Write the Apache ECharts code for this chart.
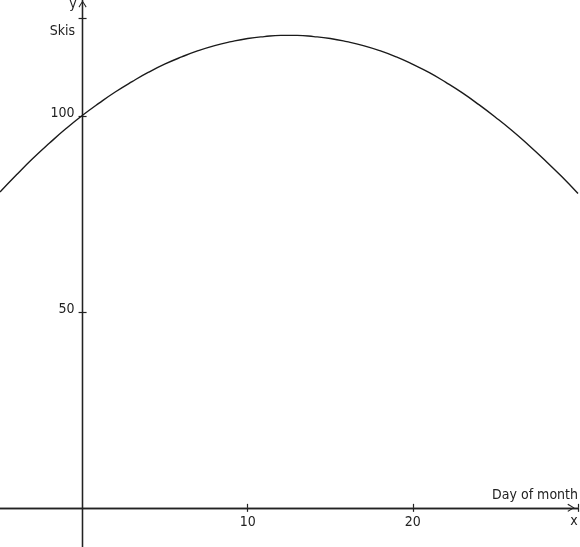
<!DOCTYPE html>
<html>
<head>
<meta charset="utf-8">
<script src="https://cdn.jsdelivr.net/npm/echarts@6/dist/echarts.min.js"></script>
<style>
html,body{margin:0;padding:0;background:#fff}
#chartmain{width:580px;height:547px}
</style>
</head>
<body>
<div id="chartmain"></div>
<script>
// ski sales over the month
var days = [-5, -4, -3, -2, -1, 0, 1, 2, 3, 4, 5, 6, 7, 8, 9, 10, 11, 12,
            13, 14, 15, 16, 17, 18, 19, 20, 21, 22, 23, 24, 25, 26, 27, 28, 29, 30];
var skis = [80.7, 85.1, 89.3, 93.2, 96.9, 100.3, 103.4, 106.3, 108.9, 111.3, 113.4, 115.2, 116.8, 118.1, 119.1, 119.9, 120.4, 120.7,
            120.7, 120.4, 119.9, 119.1, 118.1, 116.8, 115.2, 113.3, 111.2, 108.7, 106.0, 103.0, 99.8, 96.4, 92.7, 88.8, 84.7, 80.3];
var xTicks = [10, 20, 30];
var xLabels = [10, 20];
var yTicks = [50, 100, 125];
var yLabels = [50, 100];

var xRange = [-5, 30];
var yRange = [-10, 130];

var font = "'Liberation Sans Narrow', 'DejaVu Sans Condensed', sans-serif";
var ink = '#222';
var arrow = 'path://M5,0 L10,8 L9,9 L5,2.2 L1,9 L0,8 Z';

// grid box, axes are moved onto the zero lines with offset
// (v6 keeps onZero labels at the grid edge, so onZero is not used)
var W = 580, H = 547;
var grid = { left: 0, right: 2, top: -1, bottom: 0 };
var gw = W - grid.left - grid.right;
var gh = H - grid.top - grid.bottom;
var zeroX = grid.left + (0 - xRange[0]) / (xRange[1] - xRange[0]) * gw;
var zeroY = grid.top + (yRange[1] - 0) / (yRange[1] - yRange[0]) * gh;

function axisStyle(dim, main, ticks, labels) {
    var ax = {
        type: 'value',
        min: dim == 'x' ? xRange[0] : yRange[0],
        max: dim == 'x' ? xRange[1] : yRange[1],
        interval: dim == 'x' ? 5 : 10,
        axisLine: {
            show: true,
            onZero: false,
            symbol: main ? ['none', arrow] : 'none',
            symbolSize: [8, 8],
            symbolOffset: [0, dim == 'x' ? -7 : -5],
            lineStyle: { color: ink, width: 1.3 }
        },
        axisTick: {
            show: true,
            length: 4,
            customValues: ticks,
            lineStyle: { color: ink, width: 1.2 }
        },
        axisLabel: {
            show: main,
            margin: 8,
            color: ink,
            fontFamily: font,
            fontSize: 14,
            formatter: function (v) {
                return labels.indexOf(v) > -1 ? String(v) : '';
            }
        },
        splitLine: { show: false }
    };
    if (dim == 'x') {
        ax.position = main ? 'bottom' : 'top';
        ax.offset = main ? zeroY - (grid.top + gh) : -(zeroY - grid.top);
    } else {
        ax.position = main ? 'left' : 'right';
        ax.offset = main ? -(zeroX - grid.left) : zeroX - (grid.left + gw);
        // numbers sit just above their tick
        ax.axisLabel.verticalAlign = 'bottom';
        ax.axisLabel.lineHeight = 6;
    }
    return ax;
}

function label(text, x, y, align) {
    return {
        type: 'text',
        x: x,
        y: y,
        style: {
            text: text,
            align: align,
            verticalAlign: 'middle',
            fill: ink,
            font: '14px ' + font
        }
    };
}

option = {
    animation: false,
    grid: { left: grid.left, right: grid.right, top: grid.top, bottom: grid.bottom, outerBoundsMode: 'none' },
    xAxis: [
        axisStyle('x', true, xTicks, xLabels),
        axisStyle('x', false, xTicks, [])
    ],
    yAxis: [
        axisStyle('y', true, yTicks, yLabels),
        axisStyle('y', false, yTicks, [])
    ],
    graphic: [
        label('y', 73, 4, 'center'),
        label('Skis', 75, 31, 'right'),
        label('Day of month', 578, 495, 'right'),
        label('x', 574, 521, 'center')
    ],
    series: [
        {
            type: 'line',
            data: days.map(function (d, i) { return [d, skis[i]]; }),
            smooth: true,
            showSymbol: false,
            lineStyle: { color: '#1a1a1a', width: 1.4 }
        }
    ]
};

var myChart = echarts.init(document.getElementById('chartmain'));
myChart.setOption(option);
</script>
</body>
</html>
